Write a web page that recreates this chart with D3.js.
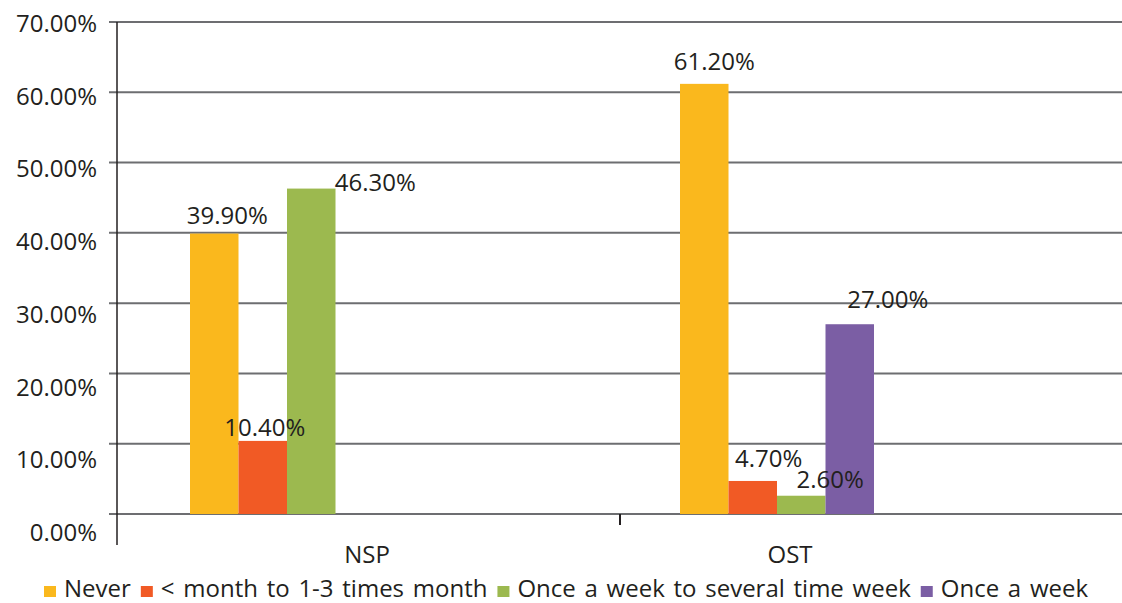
<!DOCTYPE html>
<html>
<head>
<meta charset="utf-8">
<script src="https://cdn.jsdelivr.net/npm/d3@7/dist/d3.min.js"></script>
<style>
  body { margin: 0; background: #fff; }
  text { font-family: "Open Sans", sans-serif; fill: #231f20; }
</style>
</head>
<body>
<script>
var categories = ["NSP", "OST"];
var seriesNames = ["Never", "< month to 1-3 times month", "Once a week to several time week", "Once a week"];
var never = [0.399, 0.612];
var lessMonth = [0.104, 0.047];
var onceToSeveral = [0.463, 0.026];
var onceWeek = [null, 0.27];
var yTicks = [0, 0.1, 0.2, 0.3, 0.4, 0.5, 0.6, 0.7];

var colors = ["#fab81d", "#f15a25", "#9cb94f", "#7b5ea4"];
// hand placed value labels in the original (dx from bar centre, dy from bar top)
var labelNudge = [
  [[13, -10], [10, -14]],
  [[2, -5], [16, -14]],
  [[64, 2], [29, -8]],
  [[0, 0], [38, -16]]
];

var width = 1122, height = 603;

var svg = d3.select("body").append("svg")
    .attr("width", width)
    .attr("height", height);

var y = d3.scaleLinear().domain([0, 0.7]).range([514, 22]);
// tick labels sit a little lower than their grid lines in the original
var yLab = d3.scaleLinear().domain([0, 0.7]).range([541, 32]);

var x0 = d3.scaleBand().domain(categories).range([190, 1170]);
var x1 = d3.scaleBand().domain(seriesNames).range([0, 194]);
var xLab = d3.scalePoint().domain(categories).range([367, 790]);

var fmt = d3.format(".2%");

// grid lines
svg.append("g").selectAll("line")
    .data(yTicks)
    .enter().append("line")
    .attr("x1", 109).attr("x2", width)
    .attr("y1", function(d) { return y(d); })
    .attr("y2", function(d) { return y(d); })
    .attr("stroke", "#6d6e71")
    .attr("stroke-width", 2);

svg.append("g").selectAll("text")
    .data(yTicks)
    .enter().append("text")
    .attr("x", 97)
    .attr("y", function(d) { return yLab(d); })
    .attr("text-anchor", "end")
    .style("font-size", "24px")
    .text(fmt);

// y axis line
svg.append("line")
    .attr("x1", 117).attr("x2", 117)
    .attr("y1", 22).attr("y2", 545)
    .attr("stroke", "#231f20")
    .attr("stroke-width", 1.5);

// category divider tick
svg.append("line")
    .attr("x1", 620).attr("x2", 620)
    .attr("y1", y(0)).attr("y2", y(0) + 11)
    .attr("stroke", "#231f20")
    .attr("stroke-width", 2);

var series = [never, lessMonth, onceToSeveral, onceWeek];
var points = [];
series.forEach(function(vals, si) {
    categories.forEach(function(c, ci) {
        if (vals[ci] != null) points.push({ cat: c, ci: ci, si: si, v: vals[ci] });
    });
});

function barX(d) { return x0(d.cat) + x1(seriesNames[d.si]); }

svg.append("g").selectAll("rect")
    .data(points)
    .enter().append("rect")
    .attr("x", barX)
    .attr("width", x1.bandwidth())
    .attr("y", function(d) { return y(d.v); })
    .attr("height", function(d) { return y(0) - y(d.v); })
    .attr("fill", function(d) { return colors[d.si]; });

// labels drawn after every bar so they sit on top
svg.append("g").selectAll("text")
    .data(points)
    .enter().append("text")
    .attr("x", function(d) { return barX(d) + x1.bandwidth() / 2 + labelNudge[d.si][d.ci][0]; })
    .attr("y", function(d) { return y(d.v) + labelNudge[d.si][d.ci][1]; })
    .attr("text-anchor", "middle")
    .style("font-size", "24px")
    .text(function(d) { return fmt(d.v); });

// category labels
svg.append("g").selectAll("text")
    .data(categories)
    .enter().append("text")
    .attr("x", function(d) { return xLab(d); })
    .attr("y", 563)
    .attr("text-anchor", "middle")
    .style("font-size", "24px")
    .text(function(d) { return d; });

// legend
var lx = 44;
var legend = svg.append("g");
seriesNames.forEach(function(name, i) {
    legend.append("rect")
        .attr("x", lx).attr("y", 586)
        .attr("width", 12).attr("height", 11)
        .attr("fill", colors[i]);
    var t = legend.append("text")
        .attr("x", lx + 20)
        .attr("y", 597)
        .style("font-size", "24px")
        .style("word-spacing", "2.5px")
        .text(name);
    lx += 20 + t.node().getComputedTextLength() + 10;
});
</script>
</body>
</html>
